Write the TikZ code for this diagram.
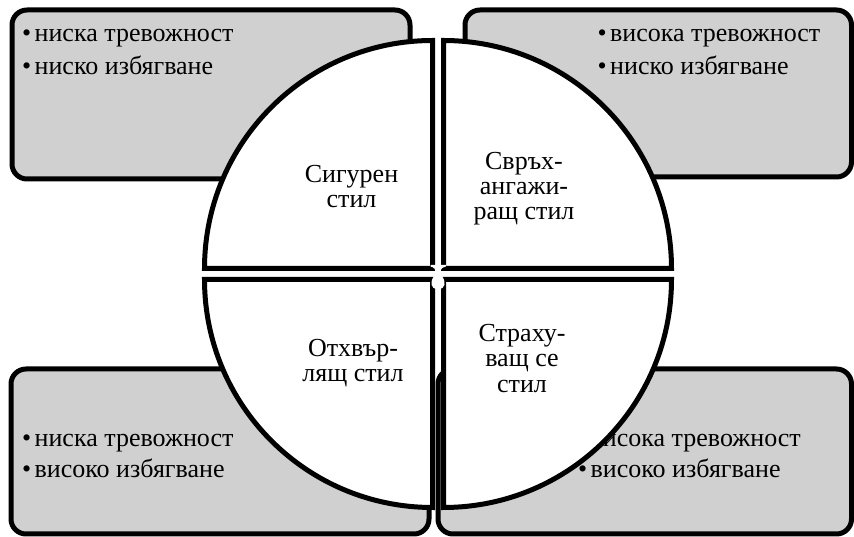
\documentclass[tikz,border=0pt]{standalone}
\usepackage{fontspec}
\setmainfont{Liberation Serif}
\newcommand\bulmark{\makebox[12.5pt][l]{•}}
\begin{document}
\begin{tikzpicture}[x=1pt,y=1pt,
  box/.style={draw=black,line width=5pt,fill=boxgray,rounded corners=15pt},
  quad/.style={draw=black,line width=5pt,fill=white,line join=miter},
  bullettext/.style={inner sep=0pt,anchor=base west,font=\fontsize{26}{31}\selectfont},
  quadtext/.style={inner sep=0pt,anchor=base,font=\fontsize{26}{26}\selectfont},
  blob/.style={fill=white,draw=none}]
\definecolor{boxgray}{RGB}{208,208,208}
\useasboundingbox (0,0) rectangle (854,537);
% corner boxes
\path[box] (12,358) rectangle (410,527);
\path[box] (465,360) rectangle (851.5,527);
\path[box] (11,3) rectangle (429,168);
\path[box] (438,3) rectangle (851.5,168);
% box texts
\node[bullettext] (tla) at (22,495) {\bulmark ниска тревожност};
\node[bullettext] (tlb) at (22,462.5) {\bulmark ниско избягване};
\node[bullettext] (tra) at (597.5,495) {\bulmark висока тревожност};
\node[bullettext] (trb) at (597.5,462.5) {\bulmark ниско избягване};
\node[bullettext] (bla) at (22,90.5) {\bulmark ниска тревожност};
\node[bullettext] (blb) at (22,59) {\bulmark високо избягване};
\node[bullettext] (bra) at (578,90.5) {\bulmark висока тревожност};
\node[bullettext] (brb) at (578,59) {\bulmark високо избягване};
% quadrants
\path[quad] (432.5,268.5) -- ++(-228,0) arc[start angle=180,end angle=90,radius=228] -- cycle;
\path[quad] (443.5,268.5) -- ++(0,228) arc[start angle=90,end angle=0,radius=228] -- cycle;
\path[quad] (432.5,257.5) -- ++(-228,0) arc[start angle=180,end angle=270,radius=228] -- cycle;
\path[quad] (443.5,257.5) -- ++(228,0) arc[start angle=0,end angle=-90,radius=228] -- cycle;
% quadrant texts
\node[quadtext] (q1a) at (351.5,354.3) {Сигурен};
\node[quadtext] (q1b) at (351.5,329) {стил};
\node[quadtext] (q2a) at (524,367) {Свръх-};
\node[quadtext] (q2b) at (524,342) {ангажи-};
\node[quadtext] (q2c) at (524,317) {ращ стил};
\node[quadtext] (q3a) at (353,180.5) {Отхвър-};
\node[quadtext] (q3b) at (353,155) {лящ стил};
\node[quadtext] (q4a) at (522,195.3) {Страху-};
\node[quadtext] (q4b) at (522,170.3) {ващ се};
\node[quadtext] (q4c) at (522,144.5) {стил};
% centre marks
\path[blob] (430.5,272) -- (446,272) -- (446,270.5)
  .. controls (441,269) .. (439.5,261) -- (436.5,261)
  .. controls (435,269) .. (430.5,270.5) -- cycle;
\path[blob] (434,261) -- (442,261) .. controls (446,255) and (446,248) .. (438,248)
  .. controls (430,248) and (430,255) .. (434,261) -- cycle;
\end{tikzpicture}
\end{document}
